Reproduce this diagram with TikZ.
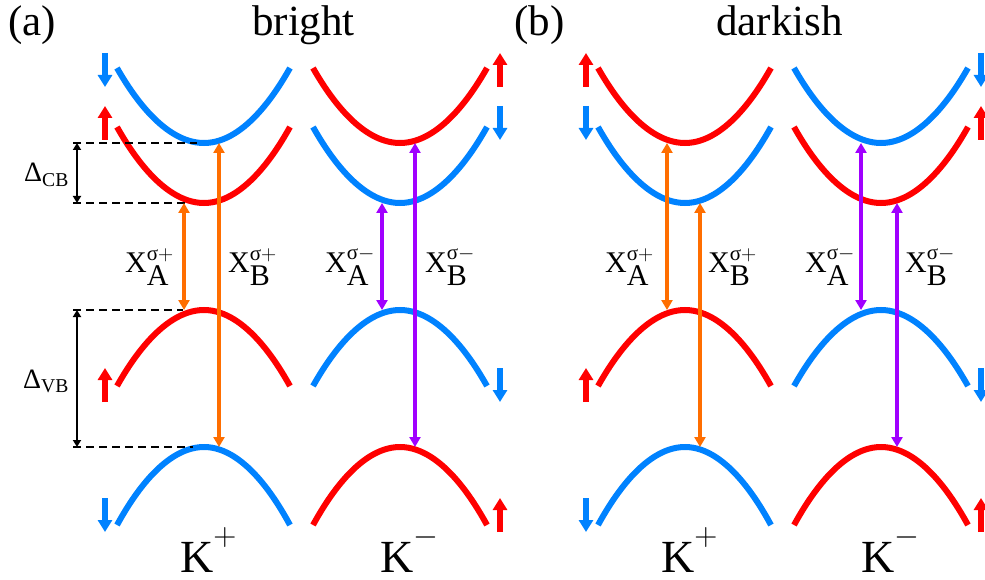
\RequirePackage{fix-cm}
\documentclass[tikz,border=0pt]{standalone}
\usepackage{amsmath}
\usepackage{fontspec}
\setmainfont{Liberation Serif}
\usetikzlibrary{arrows.meta}

\definecolor{bandblue}{RGB}{0,130,255}
\definecolor{bandred}{RGB}{255,0,0}
\definecolor{xorange}{RGB}{255,110,0}
\definecolor{xpurple}{RGB}{160,0,255}

\tikzset{
  band/.style={line width=6pt},
  spin/.style={line width=6pt,-{Triangle[width=14pt,length=12pt]}},
  trans/.style={line width=4pt,{Triangle[width=11pt,length=10pt]}-{Triangle[width=11pt,length=10pt]}},
  gap/.style={line width=2.5pt,{Triangle[width=8pt,length=7pt]}-{Triangle[width=8pt,length=7pt]}},
  level/.style={line width=2.5pt,dash pattern=on 8pt off 5pt},
  lab/.style={inner sep=0pt,anchor=base west},
}
\newcommand{\exlab}[2]{X$_{\textstyle\mathrm{#1}}^{\text{σ}#2}$}
\newcommand{\valley}[1]{K\raisebox{0.58em}{\fontsize{32}{36}\selectfont$#1$}}
\newcommand{\xsize}{\fontsize{30}{36}\selectfont}
\newcommand{\ksize}{\fontsize{46}{52}\selectfont}
\newcommand{\tsize}{\fontsize{43}{50}\selectfont}

\begin{document}
\begin{tikzpicture}[x=1pt,y=-1pt]
    \useasboundingbox (0,0) rectangle (985,580);
    % titles
    \node[lab] (tA) at (8,36) {\tsize (a)};
    \node[lab] (tAname) at (252,36) {\tsize bright};
    \node[lab] (tB) at (514,36) {\tsize (b)};
    \node[lab] (tBname) at (716,36) {\tsize darkish};

    % ---- panel (a): bright ----
    \draw[band,bandblue] (117,68) parabola bend (204,143) (290,68);
    \draw[band,bandred] (117,127) parabola bend (204,203) (290,127);
    \draw[band,bandred] (117,386) parabola bend (204,310) (290,386);
    \draw[band,bandblue] (117,525) parabola bend (204,447) (290,525);
    \draw[band,bandred] (313,68) parabola bend (400,143) (487,68);
    \draw[band,bandblue] (313,127) parabola bend (400,203) (487,127);
    \draw[band,bandblue] (313,386) parabola bend (400,310) (487,386);
    \draw[band,bandred] (313,525) parabola bend (400,447) (487,525);
    % spins
    \draw[spin,bandblue] (105,53) -- (105,87);
    \draw[spin,bandred] (105,140) -- (105,106);
    \draw[spin,bandred] (105,402) -- (105,368);
    \draw[spin,bandblue] (105,498) -- (105,532);
    \draw[spin,bandred] (500,87) -- (500,53);
    \draw[spin,bandblue] (500,106) -- (500,140);
    \draw[spin,bandblue] (500,368) -- (500,402);
    \draw[spin,bandred] (500,532) -- (500,498);
    % splittings
    \coordinate (cb1) at (73,143);
    \coordinate (cb2) at (73,203);
    \coordinate (vb1) at (73,310);
    \coordinate (vb2) at (73,447);
    \draw[level] (cb1) -- (197,143);
    \draw[level] (cb2) -- (185,203);
    \draw[level] (vb1) -- (183,310);
    \draw[level] (vb2) -- (193,447);
    \draw[gap] ([xshift=4pt]cb1) -- ([xshift=4pt]cb2);
    \draw[gap] ([xshift=4pt]vb1) -- ([xshift=4pt]vb2);
    \node[lab] (dCB) at (24,182) {\fontsize{28}{32}\selectfont Δ$_{\mathrm{CB}}$};
    \node[lab] (dVB) at (23,388) {\fontsize{28}{32}\selectfont Δ$_{\mathrm{VB}}$};
    % transitions
    \coordinate (aA1) at (184,203);
    \coordinate (aA2) at (184,310);
    \coordinate (aB1) at (219,143);
    \coordinate (aB2) at (219,447);
    \coordinate (aC1) at (382,203);
    \coordinate (aC2) at (382,310);
    \coordinate (aD1) at (415,143);
    \coordinate (aD2) at (415,447);
    \draw[trans,xorange] (aA1) -- (aA2);
    \draw[trans,xorange] (aB1) -- (aB2);
    \draw[trans,xpurple] (aC1) -- (aC2);
    \draw[trans,xpurple] (aD1) -- (aD2);
    \node[lab] (aXA) at (125,272) {\xsize\exlab{A}{+}};
    \node[lab] (aXB) at (228,272) {\xsize\exlab{B}{+}};
    \node[lab] (aXC) at (325,272) {\xsize\exlab{A}{-}};
    \node[lab] (aXD) at (425,272) {\xsize\exlab{B}{-}};
    \node[lab] (aKp) at (180,572) {\ksize\valley{+}};
    \node[lab] (aKm) at (380,572) {\ksize\valley{-}};

    % ---- panel (b): darkish ----
    \begin{scope}[xshift=481pt]
    \draw[band,bandred] (117,68) parabola bend (204,143) (290,68);
    \draw[band,bandblue] (117,127) parabola bend (204,203) (290,127);
    \draw[band,bandred] (117,386) parabola bend (204,310) (290,386);
    \draw[band,bandblue] (117,525) parabola bend (204,447) (290,525);
    \draw[band,bandblue] (313,68) parabola bend (400,143) (487,68);
    \draw[band,bandred] (313,127) parabola bend (400,203) (487,127);
    \draw[band,bandblue] (313,386) parabola bend (400,310) (487,386);
    \draw[band,bandred] (313,525) parabola bend (400,447) (487,525);
    % spins
    \draw[spin,bandred] (105,87) -- (105,53);
    \draw[spin,bandblue] (105,106) -- (105,140);
    \draw[spin,bandred] (105,402) -- (105,368);
    \draw[spin,bandblue] (105,498) -- (105,532);
    \draw[spin,bandblue] (500,53) -- (500,87);
    \draw[spin,bandred] (500,140) -- (500,106);
    \draw[spin,bandblue] (500,368) -- (500,402);
    \draw[spin,bandred] (500,532) -- (500,498);
    % transitions
    \coordinate (bA1) at (186,143);
    \coordinate (bA2) at (186,310);
    \coordinate (bB1) at (219,203);
    \coordinate (bB2) at (219,447);
    \coordinate (bC1) at (380,143);
    \coordinate (bC2) at (380,310);
    \coordinate (bD1) at (416,203);
    \coordinate (bD2) at (416,447);
    \draw[trans,xorange] (bA1) -- (bA2);
    \draw[trans,xorange] (bB1) -- (bB2);
    \draw[trans,xpurple] (bC1) -- (bC2);
    \draw[trans,xpurple] (bD1) -- (bD2);
    \node[lab] (bXA) at (124,272) {\xsize\exlab{A}{+}};
    \node[lab] (bXB) at (227,272) {\xsize\exlab{B}{+}};
    \node[lab] (bXC) at (324,272) {\xsize\exlab{A}{-}};
    \node[lab] (bXD) at (424,272) {\xsize\exlab{B}{-}};
    \node[lab] (bKp) at (180,572) {\ksize\valley{+}};
    \node[lab] (bKm) at (380,572) {\ksize\valley{-}};
    \end{scope}
\end{tikzpicture}
\end{document}
